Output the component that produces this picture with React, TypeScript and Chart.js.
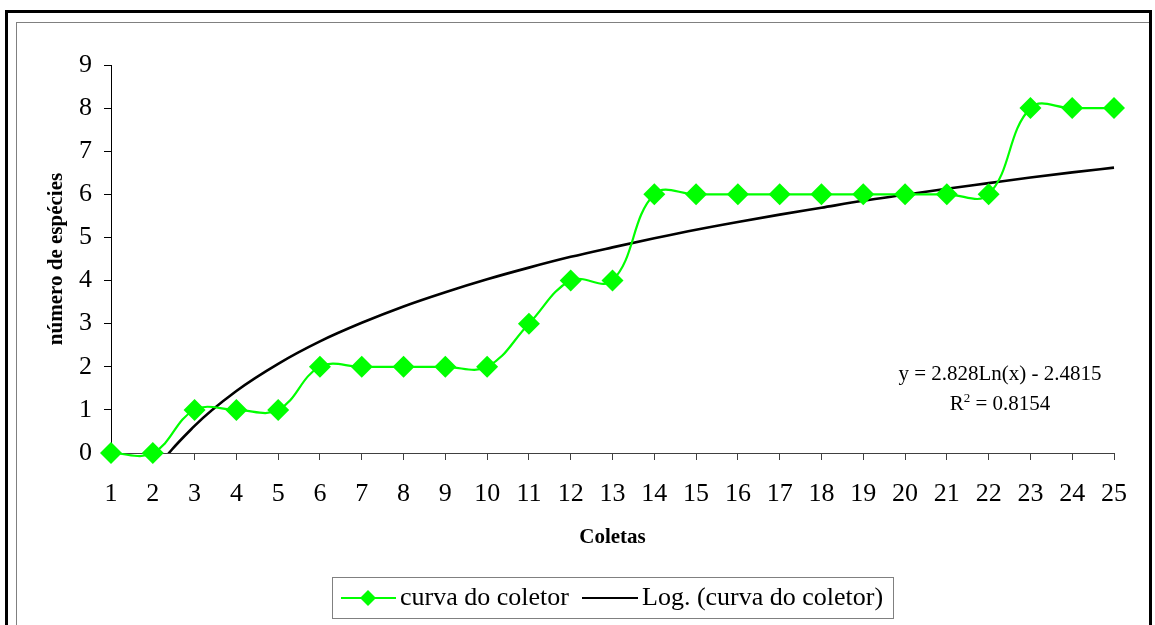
import React, { useEffect, useRef } from "react";
import { Chart, registerables } from "chart.js";

Chart.register(...registerables);

const COLETAS = [1, 2, 3, 4, 5, 6, 7, 8, 9, 10, 11, 12, 13, 14, 15, 16, 17, 18, 19, 20, 21, 22, 23, 24, 25];
const ESPECIES = [0, 0, 1, 1, 1, 2, 2, 2, 2, 2, 3, 4, 4, 6, 6, 6, 6, 6, 6, 6, 6, 6, 8, 8, 8];
// Logarithmic trend line values (y = 2.828Ln(x) - 2.4815)
const LOG_TREND = [-2.48, -0.52, 0.63, 1.44, 2.07, 2.59, 3.02, 3.4, 3.73, 4.03, 4.3, 4.55, 4.77, 4.98, 5.18, 5.36, 5.53, 5.69, 5.85, 5.99, 6.13, 6.26, 6.39, 6.51, 6.62];
const Y_MIN = 0;
const Y_MAX = 9;

const SERIES_NAME = "curva do coletor";
const TREND_NAME = "Log. (curva do coletor)";
const X_TITLE = "Coletas";
const Y_TITLE = "número de espécies";

const FONT = "'Liberation Serif', 'Times New Roman', serif";

export default function App() {
  const canvasRef = useRef<HTMLCanvasElement | null>(null);

  useEffect(() => {
    const canvas = canvasRef.current;
    if (!canvas) return;
    const chart = new Chart(canvas, {
      type: "line",
      data: {
        labels: COLETAS.map(String),
        datasets: [
          {
            label: SERIES_NAME,
            data: ESPECIES,
            borderColor: "#00FF00",
            backgroundColor: "#00FF00",
            borderWidth: 2.2,
            pointStyle: "rectRot",
            pointRadius: 11,
            pointBorderWidth: 0,
            pointBackgroundColor: "#00FF00",
            tension: 0.4,
            clip: false,
          } as any,
          {
            label: TREND_NAME,
            data: LOG_TREND,
            borderColor: "#000000",
            borderWidth: 2.6,
            pointRadius: 0,
            cubicInterpolationMode: "monotone",
          } as any,
        ],
      },
      options: {
        animation: false,
        responsive: false,
        devicePixelRatio: 1,
        layout: { padding: { left: 0, right: 41, top: 65, bottom: 0 } },
        elements: { line: { capBezierPoints: false } },
        plugins: { legend: { display: false }, tooltip: { enabled: false } },
        scales: {
          x: {
            type: "category",
            offset: false,
            grid: { display: true, drawOnChartArea: false, drawTicks: true, tickLength: 7, color: "#404040" },
            border: { display: true, color: "#404040", width: 1 },
            ticks: { color: "#000", font: { family: FONT, size: 26 }, padding: 19, maxRotation: 0, autoSkip: false },
            title: {
              display: true,
              text: X_TITLE,
              color: "#000",
              font: { family: FONT, size: 21, weight: "bold" },
              padding: { top: 0, bottom: 75 },
            },
            afterFit: (s: any) => {
              s.height = 172;
            },
          },
          y: {
            min: Y_MIN,
            max: Y_MAX,
            grid: { display: true, drawOnChartArea: false, drawTicks: true, tickLength: 7, color: "#000" },
            border: { display: true, color: "#000", width: 1 },
            ticks: { stepSize: 1, color: "#000", font: { family: FONT, size: 26 }, padding: 12 },
            title: {
              display: true,
              text: Y_TITLE,
              color: "#000",
              font: { family: FONT, size: 21, weight: "bold" },
              padding: { top: 44, bottom: 0 },
            },
            afterFit: (s: any) => {
              s.width = 111;
            },
          },
        },
      } as any,
    });
    return () => chart.destroy();
  }, []);

  return (
    <div style={{ position: "fixed", left: 0, top: 0, width: 1155, height: 625, overflow: "hidden", background: "#fff" }}>
      <div
        style={{
          position: "absolute",
          left: 5,
          top: 10,
          width: 1147,
          height: 700,
          border: "3px solid #000",
          boxSizing: "border-box",
          overflow: "hidden",
        }}
      >
        <div
          style={{
            position: "absolute",
            left: 8,
            top: 9,
            width: 1300,
            height: 800,
            border: "1px solid #808080",
            boxSizing: "border-box",
          }}
        />
      </div>
      <canvas ref={canvasRef} width={1155} height={625} style={{ position: "absolute", left: 0, top: 0, width: 1155, height: 625 }} />
      <div
        style={{
          position: "absolute",
          left: 880,
          width: 240,
          top: 358,
          textAlign: "center",
          fontFamily: FONT,
          fontSize: 21,
          lineHeight: "30px",
          color: "#000",
        }}
      >
        <div>y = 2.828Ln(x) - 2.4815</div>
        <div>
          R<sup style={{ fontSize: 13, verticalAlign: "8px", lineHeight: 0 }}>2</sup> = 0.8154
        </div>
      </div>
      <div
        style={{
          position: "absolute",
          left: 332,
          top: 577,
          width: 562,
          height: 42,
          border: "1px solid #808080",
          boxSizing: "border-box",
          fontFamily: FONT,
          fontSize: 26,
          color: "#000",
        }}
      >
        <svg width={70} height={40} style={{ position: "absolute", left: 0, top: 0 }}>
          <line x1={8} y1={20} x2={63} y2={20} stroke="#00FF00" strokeWidth={2} />
          <polygon points="35,12 43,20 35,28 27,20" fill="#00FF00" />
        </svg>
        <span style={{ position: "absolute", left: 67, top: 3, lineHeight: "32px", whiteSpace: "nowrap" }}>{SERIES_NAME}</span>
        <svg width={70} height={40} style={{ position: "absolute", left: 245, top: 0 }}>
          <line x1={4} y1={20} x2={60} y2={20} stroke="#000" strokeWidth={2} />
        </svg>
        <span style={{ position: "absolute", left: 309, top: 3, lineHeight: "32px", whiteSpace: "nowrap" }}>{TREND_NAME}</span>
      </div>
    </div>
  );
}
